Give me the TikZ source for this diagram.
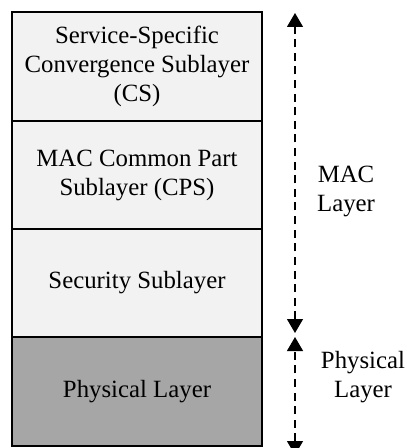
\documentclass[tikz,border=0pt]{standalone}
\usepackage{fontspec}
\setmainfont{Liberation Serif}
\usetikzlibrary{arrows.meta}
\definecolor{lightfill}{HTML}{F2F2F2}
\definecolor{darkfill}{HTML}{A6A6A6}
\tikzset{
  layerbox/.style={draw=black, line width=1pt, rectangle, minimum width=125pt, minimum height=54.25pt, inner sep=0pt, outer sep=0pt, align=center, font=\fontsize{12.4}{14.5}\selectfont},
  rangearrow/.style={line width=0.6pt, dash pattern=on 4pt off 2.8pt, {Triangle[length=7pt,width=8pt]}-{Triangle[length=7pt,width=8pt]}, shorten >=0pt, shorten <=0pt},
  sidelabel/.style={align=center, inner sep=0pt, font=\fontsize{12.4}{14.5}\selectfont}
}
\begin{document}
\begin{tikzpicture}[x=0.5pt, y=-0.5pt]
\useasboundingbox (0,0) rectangle (406,448);
\clip (0,0) rectangle (406,448);
\node[layerbox, fill=lightfill] (cs) at (137,66.5) {Service-Specific\\Convergence Sublayer\\(CS)};
\node[layerbox, fill=lightfill] (cps) at (137,175) {MAC Common Part\\Sublayer (CPS)};
\node[layerbox, fill=lightfill] (sec) at (137,283) {Security Sublayer};
\node[layerbox, fill=darkfill] (phy) at (137,391.5) {Physical Layer};
\coordinate (mactop) at (295,13);
\coordinate (macbot) at (295,333);
\coordinate (phytop) at (295,337);
\coordinate (phybot) at (295,455);
\draw[rangearrow] (macbot) -- (mactop);
\draw[rangearrow] (phybot) -- (phytop);
\node[sidelabel] (maclbl) at (346,191) {MAC\\Layer};
\node[sidelabel] (phylbl) at (363,377) {Physical\\Layer};
\end{tikzpicture}
\end{document}
